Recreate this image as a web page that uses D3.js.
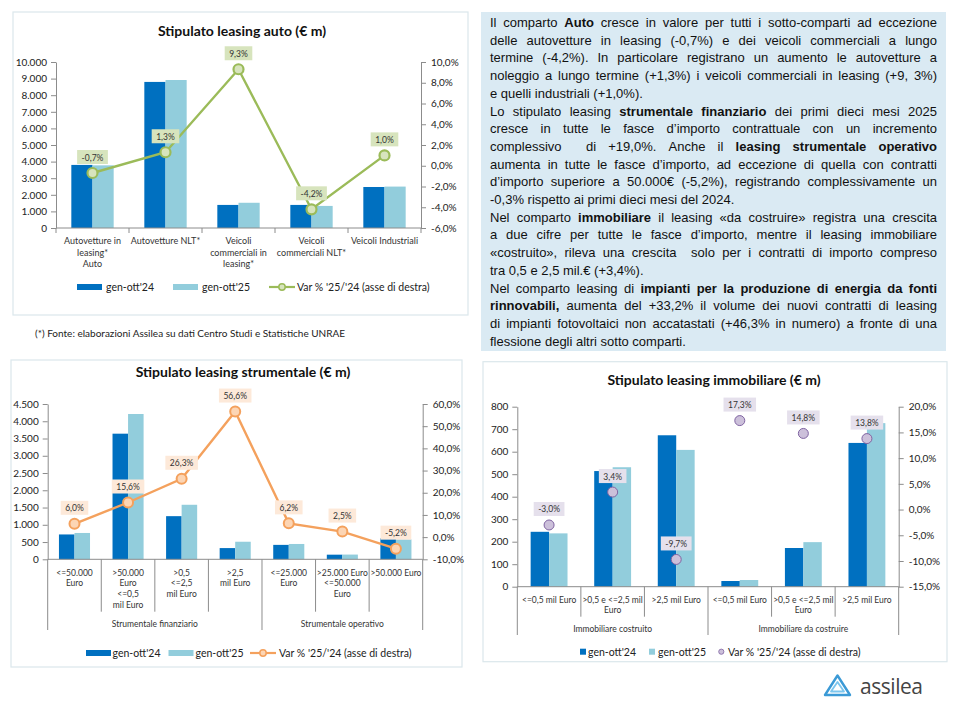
<!DOCTYPE html>
<html>
<head>
<meta charset="utf-8">
<script src="https://cdn.jsdelivr.net/npm/d3@7"></script>
<style>
body { margin: 0; background: #fff; }
svg { display: block; }
</style>
</head>
<body>
<script>
// ---- dati ----
var autoCats = [["Autovetture in", "leasing*", "Auto"], ["Autovetture NLT*"], ["Veicoli", "commerciali in", "leasing*"], ["Veicoli", "commerciali NLT*"], ["Veicoli Industriali"]];
var auto24 = [3800, 8800, 1390, 1390, 2470];
var auto25 = [3775, 8915, 1520, 1330, 2495];
var autoVar = [-0.7, 1.3, 9.3, -4.2, 1.0];

var strCats = [["<=50.000", "Euro"], [">50.000", "Euro", "<=0,5", "mil Euro"], [">0,5", "<=2,5", "mil Euro"], [">2,5", "mil Euro"], ["<=25.000", "Euro"], [">25.000 Euro", "<=50.000", "Euro"], [">50.000 Euro"]];
var strGroups = ["Strumentale finanziario", "Strumentale operativo"];
var strGroupSize = [4, 3];
var str24 = [720, 3640, 1250, 325, 418, 134, 610];
var str25 = [763, 4210, 1580, 509, 444, 137, 578];
var strVar = [6.0, 15.6, 26.3, 56.6, 6.2, 2.5, -5.2];

var immCats = [["<=0,5 mil Euro"], [">0,5 e <=2,5 mil", "Euro"], [">2,5 mil Euro"], ["<=0,5 mil Euro"], [">0,5 e <=2,5 mil", "Euro"], [">2,5 mil Euro"]];
var immGroups = ["Immobiliare costruito", "Immobiliare da costruire"];
var immGroupSize = [3, 3];
var imm24 = [244, 514, 673, 25.3, 172, 639];
var imm25 = [237, 531, 608, 29.7, 198, 727];
var immVar = [-3.0, 3.4, -9.7, 17.3, 14.8, 13.8];

var seriesNames = ["gen-ott'24", "gen-ott'25", "Var % '25/'24 (asse di destra)"];

var noteLines = [
  ["Il comparto **Auto** cresce in valore per tutti i sotto-comparti ad eccezione", true],
  ["delle autovetture in leasing (-0,7%) e dei veicoli commerciali a lungo", true],
  ["termine (-4,2%). In particolare registrano un aumento le autovetture a", true],
  ["noleggio a lungo termine (+1,3%) i veicoli commerciali in leasing (+9, 3%)", true],
  ["e quelli industriali (+1,0%).", false],
  ["Lo stipulato leasing **strumentale finanziario** dei primi dieci mesi 2025", true],
  ["cresce in tutte le fasce d\u2019importo contrattuale con un incremento", true],
  ["complessivo  di +19,0%. Anche il **leasing strumentale operativo**", true],
  ["aumenta in tutte le fasce d\u2019importo, ad eccezione di quella con contratti", true],
  ["d\u2019importo superiore a 50.000\u20ac (-5,2%), registrando complessivamente un", true],
  ["-0,3% rispetto ai primi dieci mesi del 2024.", false],
  ["Nel comparto **immobiliare** il leasing \u00abda costruire\u00bb registra una crescita", true],
  ["a due cifre per tutte le fasce d\u2019importo, mentre il leasing immobiliare", true],
  ["\u00abcostruito\u00bb, rileva una crescita  solo per i contratti di importo compreso", true],
  ["tra 0,5 e 2,5 mil.\u20ac (+3,4%).", false],
  ["Nel comparto leasing di **impianti per la produzione di energia da fonti**", true],
  ["**rinnovabili,** aumenta del +33,2% il volume dei nuovi contratti di leasing", true],
  ["di impianti fotovoltaici non accatastati (+46,3% in numero) a fronte di una", true],
  ["flessione degli altri sotto comparti.", false]
];

// ---- setup ----
var svg = d3.select("body").append("svg").attr("width", 960).attr("height", 720);
var it = d3.formatLocale({decimal: ",", thousands: ".", grouping: [3], currency: ["\u20ac", ""], minus: "-"});
var fmtN = it.format(",.0f");
var fmtP = function(d) { return it.format(".1f")(d) + "%"; };
var chartFont = "Lato, 'Open Sans', sans-serif";
var dark = "#0070c0", light = "#92cddc";

function drawChart(o) {
  var g = svg.append("g").style("font-family", chartFont);
  g.append("rect").attr("x", o.panel[0]).attr("y", o.panel[1]).attr("width", o.panel[2]).attr("height", o.panel[3])
    .attr("fill", "#fff").attr("stroke", "#dbe7ec").attr("stroke-width", 1.2);
  g.append("text").attr("x", o.titleX).attr("y", o.titleY).attr("text-anchor", "middle")
    .attr("font-size", 14).attr("font-weight", "bold").attr("fill", "#111").text(o.title);

  var x = d3.scaleBand().domain(d3.range(o.cats.length)).range([o.left, o.right]);
  var xs = d3.scaleBand().domain([0, 1]).range([x.bandwidth() * 0.21, x.bandwidth() * 0.79]);
  var y = d3.scaleLinear().domain(o.yDom).range([o.bottom, o.top]);
  var y2 = d3.scaleLinear().domain(o.y2Dom).range([o.bottom, o.top]);

  // barre
  [o.s24, o.s25].forEach(function(s, k) {
    g.append("g").selectAll("rect").data(s).join("rect")
      .attr("x", function(d, i) { return x(i) + xs(k); })
      .attr("y", function(d) { return y(d); })
      .attr("width", xs.bandwidth())
      .attr("height", function(d) { return y(0) - y(d); })
      .attr("fill", k ? light : dark);
  });

  // assi
  var ax = g.append("g").attr("transform", "translate(" + o.left + ",0)")
    .call(d3.axisLeft(y).tickValues(d3.range(o.yDom[0], o.yDom[1] + 1, o.yStep)).tickFormat(fmtN).tickSize(5).tickSizeOuter(0).tickPadding(4));
  var ax2 = g.append("g").attr("transform", "translate(" + o.right + ",0)")
    .call(d3.axisRight(y2).tickValues(d3.range(o.y2Dom[0], o.y2Dom[1] + 0.001, o.y2Step)).tickFormat(fmtP).tickSize(5).tickSizeOuter(0).tickPadding(5));
  [ax, ax2].forEach(function(a) {
    a.selectAll("path, line").attr("stroke", "#8c8c8c");
    a.selectAll("text").attr("font-size", 10).attr("fill", "#222").attr("font-family", chartFont);
  });
  g.append("line").attr("x1", o.left).attr("x2", o.right).attr("y1", y(0)).attr("y2", y(0)).attr("stroke", "#8c8c8c");

  // separatori categorie
  var edges = d3.range(o.cats.length + 1);
  var groupEdges = [0];
  if (o.groupSize) o.groupSize.forEach(function(n) { groupEdges.push(groupEdges[groupEdges.length - 1] + n); });
  g.append("g").selectAll("line").data(edges).join("line")
    .attr("x1", function(i) { return o.left + i * x.step(); })
    .attr("x2", function(i) { return o.left + i * x.step(); })
    .attr("y1", y(0))
    .attr("y2", function(i) { return o.groupSize && groupEdges.indexOf(i) >= 0 ? o.groupSepY : o.sepY; })
    .attr("stroke", "#8c8c8c");

  // etichette categorie
  var cl = g.append("g").attr("font-size", o.catFont).attr("fill", "#333").attr("text-anchor", "middle");
  o.cats.forEach(function(lines, i) {
    lines.forEach(function(t, j) {
      cl.append("text").attr("x", x(i) + x.bandwidth() / 2).attr("y", o.catY + j * o.catPitch).text(t);
    });
  });
  if (o.groups) {
    o.groups.forEach(function(name, k) {
      var a = o.left + groupEdges[k] * x.step(), b = o.left + groupEdges[k + 1] * x.step();
      cl.append("text").attr("x", (a + b) / 2).attr("y", o.groupY).text(name);
    });
  }

  // variazione %
  var pts = o.vars.map(function(v, i) { return [x(i) + x.bandwidth() / 2, y2(v)]; });
  if (o.lineColor) {
    g.append("path").attr("d", d3.line()(pts)).attr("fill", "none").attr("stroke", o.lineColor).attr("stroke-width", 2.4);
  }
  var lab = g.append("g");
  o.vars.forEach(function(v, i) {
    var t = lab.append("text").attr("x", pts[i][0]).attr("y", pts[i][1] - 12.5).attr("text-anchor", "middle")
      .attr("font-size", 8.5).attr("fill", "#333").text(fmtP(v));
    var w = t.node().getComputedTextLength() + 9;
    lab.insert("rect", "text").attr("x", pts[i][0] - w / 2).attr("y", pts[i][1] - 23).attr("width", w).attr("height", 14).attr("fill", o.labelFill);
  });
  g.append("g").selectAll("circle").data(pts).join("circle")
    .attr("cx", function(d) { return d[0]; }).attr("cy", function(d) { return d[1]; })
    .attr("r", o.markerR).attr("fill", o.markerFill).attr("stroke", o.markerStroke).attr("stroke-width", o.markerSW);

  // legenda
  var lg = g.append("g").attr("font-size", 10.5).attr("fill", "#222");
  var L = o.legend;
  if (o.squareLegend) {
    lg.append("rect").attr("x", L[0]).attr("y", o.legendY - 3).attr("width", 6).attr("height", 6).attr("fill", dark);
    lg.append("rect").attr("x", L[2]).attr("y", o.legendY - 3).attr("width", 6).attr("height", 6).attr("fill", light);
    lg.append("circle").attr("cx", L[4]).attr("cy", o.legendY).attr("r", 2.6).attr("fill", o.markerFill).attr("stroke", o.markerStroke).attr("stroke-width", 0.8);
  } else {
    lg.append("rect").attr("x", L[0]).attr("y", o.legendY - 3).attr("width", 25).attr("height", 6).attr("fill", dark);
    lg.append("rect").attr("x", L[2]).attr("y", o.legendY - 3).attr("width", 25).attr("height", 6).attr("fill", light);
    lg.append("line").attr("x1", L[4] - 13).attr("x2", L[4] + 13).attr("y1", o.legendY).attr("y2", o.legendY).attr("stroke", o.lineColor).attr("stroke-width", 2.2);
    lg.append("circle").attr("cx", L[4]).attr("cy", o.legendY).attr("r", 3.2).attr("fill", o.markerFill).attr("stroke", o.lineColor).attr("stroke-width", 1.5);
  }
  [L[1], L[3], L[5]].forEach(function(xx, k) {
    lg.append("text").attr("x", xx).attr("y", o.legendY + 3.8).text(seriesNames[k]);
  });
}

drawChart({
  panel: [13, 12, 455, 303], title: "Stipulato leasing auto (\u20ac m)", titleX: 242, titleY: 36,
  cats: autoCats, s24: auto24, s25: auto25, vars: autoVar,
  left: 56, right: 421, top: 62, bottom: 228,
  yDom: [0, 10000], yStep: 1000, y2Dom: [-6, 10], y2Step: 2,
  sepY: 233, catY: 244, catPitch: 11.7, catFont: 9,
  lineColor: "#9bbb59", markerFill: "#d7e4bd", markerStroke: "#9bbb59", markerR: 5, markerSW: 2.2, labelFill: "#d7e4bd",
  legendY: 287, legend: [77, 106, 173, 202, 282, 297]
});

drawChart({
  panel: [11, 360, 451, 307], title: "Stipulato leasing strumentale (\u20ac m)", titleX: 243, titleY: 377,
  cats: strCats, s24: str24, s25: str25, vars: strVar, groups: strGroups, groupSize: strGroupSize,
  left: 47.7, right: 422.7, top: 404, bottom: 559.3,
  yDom: [0, 4500], yStep: 500, y2Dom: [-10, 60], y2Step: 10,
  sepY: 611.7, groupSepY: 630, catY: 575.5, catPitch: 10.7, catFont: 8.5, groupY: 627,
  lineColor: "#f4a15d", markerFill: "#fcd5b4", markerStroke: "#f4a15d", markerR: 5, markerSW: 2, labelFill: "#fde9d9",
  legendY: 653, legend: [86, 112.5, 168.5, 195.5, 263, 279]
});

drawChart({
  panel: [483, 361.7, 464, 300], title: "Stipulato leasing immobiliare (\u20ac m)", titleX: 714, titleY: 385,
  cats: immCats, s24: imm24, s25: imm25, vars: immVar, groups: immGroups, groupSize: immGroupSize,
  left: 517.3, right: 898.7, top: 406.7, bottom: 586.7,
  yDom: [0, 800], yStep: 100, y2Dom: [-15, 20], y2Step: 5,
  sepY: 616.7, groupSepY: 635, catY: 602.5, catPitch: 10.7, catFont: 8.5, groupY: 632,
  lineColor: null, markerFill: "#ccc0da", markerStroke: "#8064a2", markerR: 5, markerSW: 1, labelFill: "#e5e0ec",
  squareLegend: true, legendY: 651.7, legend: [580, 588, 649, 658, 721.3, 728]
});

// nota fonte
svg.append("text").attr("x", 35).attr("y", 337).attr("font-family", chartFont).attr("font-size", 10).attr("fill", "#222")
  .text("(*) Fonte: elaborazioni Assilea su dati Centro Studi e Statistiche UNRAE");

// box di testo giustificato
var box = svg.append("g").style("font-family", "'Liberation Sans', Arial, sans-serif");
box.append("rect").attr("x", 481).attr("y", 12).attr("width", 465).attr("height", 339).attr("fill", "#daeaf3");
var tx0 = 490, tx1 = 937, fs = 13;
var spaceW = (function() {
  var t = box.append("text").attr("font-size", fs).text("a a");
  var t2 = box.append("text").attr("font-size", fs).text("aa");
  var w = t.node().getComputedTextLength() - t2.node().getComputedTextLength();
  t.remove(); t2.remove();
  return w;
})();
noteLines.forEach(function(ln, li) {
  var yy = 27 + li * 17.7;
  var tokens = [[]], bold = false;
  ln[0].split("**").forEach(function(piece, pi) {
    bold = pi % 2 === 1;
    piece.split("").forEach(function(ch) {
      if (ch === " ") { tokens.push([]); return; }
      var cur = tokens[tokens.length - 1];
      if (cur.length && cur[cur.length - 1].b === bold) cur[cur.length - 1].t += ch;
      else cur.push({t: ch, b: bold});
    });
  });
  var nodes = tokens.map(function(tok) {
    var t = box.append("text").attr("y", yy).attr("font-size", fs).attr("fill", "#111");
    tok.forEach(function(r) { t.append("tspan").attr("font-weight", r.b ? "bold" : "normal").text(r.t); });
    return t;
  });
  var widths = nodes.map(function(n) { return n.node().getComputedTextLength(); });
  var total = d3.sum(widths);
  var gap = ln[1] ? (tx1 - tx0 - total) / (tokens.length - 1) : spaceW;
  var xx = tx0;
  nodes.forEach(function(n, i) { n.attr("x", xx); xx += widths[i] + gap; });
});

// logo
var logo = svg.append("g");
logo.append("path").attr("d", "M837.5,675.5 L850,695 L825,695 Z").attr("fill", "none")
  .attr("stroke", "#3b9ad6").attr("stroke-width", 2.4).attr("stroke-linejoin", "round");
logo.append("path").attr("d", "M837.5,682 L844,691.5 L831,691.5 Z").attr("fill", "none")
  .attr("stroke", "#7cc6ee").attr("stroke-width", 1.8).attr("stroke-linejoin", "round");
logo.append("text").attr("x", 860).attr("y", 694).attr("font-family", "'Open Sans', sans-serif").attr("font-size", 21)
  .attr("textLength", 63).attr("fill", "#444").text("assilea");
</script>
</body>
</html>
